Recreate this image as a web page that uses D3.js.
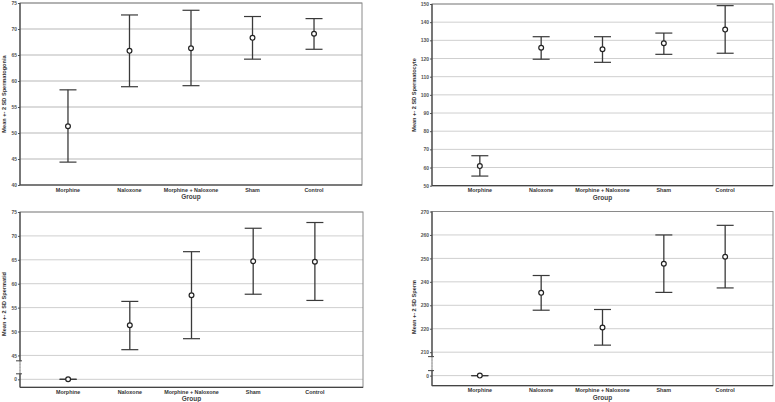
<!DOCTYPE html>
<html>
<head>
<meta charset="utf-8">
<script src="https://cdn.jsdelivr.net/npm/d3@7"></script>
<style>
  body { margin: 0; background: #fff; }
  svg { display: block; font-family: Arial, "Liberation Sans", sans-serif; }
</style>
</head>
<body>
<svg id="chart" width="775" height="402"></svg>
<script>
// groups on the x axis (same in all four panels)
var groups = ['Morphine', 'Naloxone', 'Morphine + Naloxone', 'Sham', 'Control'];

// Spermatogonia: mean, mean - 2SD, mean + 2SD
var gonMean = [51.3, 65.8, 66.3, 68.3, 69.1];
var gonLow  = [44.4, 58.9, 59.1, 64.2, 66.1];
var gonHigh = [58.3, 72.7, 73.6, 72.4, 72.0];

// Spermatocyte
var cyteMean = [60.8, 125.9, 125.1, 128.4, 135.9];
var cyteLow  = [55.3, 119.6, 117.9, 122.3, 122.9];
var cyteHigh = [66.5, 132.0, 132.0, 134.0, 149.1];

// Spermatid (morphine group is 0, shown below the axis break)
var tidMean = [0, 51.3, 57.6, 64.7, 64.6];
var tidLow  = [0, 46.2, 48.5, 57.8, 56.5];
var tidHigh = [0, 56.3, 66.7, 71.6, 72.8];

// Sperm
var spermMean = [0, 235.3, 220.5, 247.7, 250.7];
var spermLow  = [0, 227.9, 213.0, 235.5, 237.4];
var spermHigh = [0, 242.7, 228.2, 260.0, 264.1];

// tick values
var gonTicks = [40, 45, 50, 55, 60, 65, 70, 75];
var cyteTicks = [50, 60, 70, 80, 90, 100, 110, 120, 130, 140, 150];
var tidTicks = [40, 45, 50, 55, 60, 65, 70, 75];     // 40 is drawn as "0"
var spermTicks = [200, 210, 220, 230, 240, 250, 260, 270]; // 200 is drawn as "0"

var svg = d3.select('#chart');

function drawPanel(p){
    var g = svg.append('g');

    var x = d3.scalePoint()
        .domain(groups)
        .range([p.left, p.right])
        .padding(0.78);

    var y = d3.scaleLinear()
        .domain(p.domain)
        .range([p.bottom, p.top]);

    // values under the break are put on the break tick
    function yPos(v){
        if (p.breakAt != null && v < p.breakAt) return y(p.breakAt);
        return y(v);
    }

    // grid
    g.selectAll('line.grid')
        .data(p.ticks)
        .enter().append('line')
        .attr('class', 'grid')
        .attr('x1', p.left).attr('x2', p.right)
        .attr('y1', d => y(d)).attr('y2', d => y(d))
        .attr('stroke', '#cfcfcf')
        .attr('stroke-width', p.gridWidth);

    // frame: top and right in gray
    g.append('rect')
        .attr('x', p.left).attr('y', p.top)
        .attr('width', p.right - p.left).attr('height', p.bottom - p.top)
        .attr('fill', 'none')
        .attr('stroke', '#8a8a8a')
        .attr('stroke-width', 1);

    // y axis
    var yAxis = d3.axisLeft(y)
        .tickValues(p.ticks)
        .tickSize(2)
        .tickFormat(d => (p.breakAt != null && d == p.breakAt) ? '0' : d);

    var ya = g.append('g')
        .attr('transform', 'translate(' + p.left + ',0)')
        .call(yAxis);
    ya.select('.domain').remove();
    ya.selectAll('line').attr('stroke', '#555');
    ya.selectAll('text')
        .attr('font-size', 5)
        .attr('font-weight', 'bold')
        .attr('fill', '#555')
        .attr('x', -3);

    // solid left axis (dotted across the break)
    if (p.breakAt != null){
        var b1 = y(p.breakAt) - p.breakGap[0];
        var b2 = y(p.breakAt) - p.breakGap[1];
        g.append('line')
            .attr('x1', p.left).attr('x2', p.left)
            .attr('y1', p.top).attr('y2', b1)
            .attr('stroke', '#444').attr('stroke-width', 1.2);
        g.append('line')
            .attr('x1', p.left).attr('x2', p.left)
            .attr('y1', b1).attr('y2', b2)
            .attr('stroke', '#999').attr('stroke-width', 0.8)
            .attr('stroke-dasharray', '1,2');
        g.append('line')
            .attr('x1', p.left).attr('x2', p.left)
            .attr('y1', b2).attr('y2', p.bottom)
            .attr('stroke', '#444').attr('stroke-width', 1.2);
        [b1, b2].forEach(function(b){
            g.append('line')
                .attr('x1', p.left - 4).attr('x2', p.left + 2)
                .attr('y1', b).attr('y2', b)
                .attr('stroke', '#444').attr('stroke-width', 1);
        });
    } else {
        g.append('line')
            .attr('x1', p.left).attr('x2', p.left)
            .attr('y1', p.top).attr('y2', p.bottom)
            .attr('stroke', '#444').attr('stroke-width', 1.2);
    }

    // x axis
    g.append('line')
        .attr('x1', p.left).attr('x2', p.right)
        .attr('y1', p.bottom).attr('y2', p.bottom)
        .attr('stroke', '#444').attr('stroke-width', 1.2);

    g.selectAll('text.cat')
        .data(groups)
        .enter().append('text')
        .attr('class', 'cat')
        .attr('x', d => x(d))
        .attr('y', p.bottom + 6.5)
        .attr('text-anchor', 'middle')
        .attr('font-size', 5.4)
        .attr('font-weight', 'bold')
        .attr('fill', '#333')
        .text(d => d);

    g.append('text')
        .attr('x', x('Morphine + Naloxone'))
        .attr('y', p.bottom + 14)
        .attr('text-anchor', 'middle')
        .attr('font-size', 6.5)
        .attr('font-weight', 'bold')
        .attr('fill', '#444')
        .text('Group');

    // y title
    g.append('text')
        .attr('transform', 'translate(' + p.titleX + ',' + p.titleY + ') rotate(-90)')
        .attr('text-anchor', 'middle')
        .attr('font-size', 5.6)
        .attr('font-weight', 'bold')
        .attr('fill', '#333')
        .text(p.title);

    // error bars
    var rows = groups.map((d, i) => ({g: d, m: p.mean[i], lo: p.low[i], hi: p.high[i]}));
    var cap = 8.5;

    var bars = g.selectAll('g.bar')
        .data(rows)
        .enter().append('g')
        .attr('class', 'bar');

    bars.append('line')
        .attr('x1', d => x(d.g)).attr('x2', d => x(d.g))
        .attr('y1', d => yPos(d.lo)).attr('y2', d => yPos(d.hi))
        .attr('stroke', '#3a3a3a').attr('stroke-width', 1.3);

    bars.append('line')
        .attr('x1', d => x(d.g) - cap).attr('x2', d => x(d.g) + cap)
        .attr('y1', d => yPos(d.hi)).attr('y2', d => yPos(d.hi))
        .attr('stroke', '#3a3a3a').attr('stroke-width', 1.2);

    bars.append('line')
        .attr('x1', d => x(d.g) - cap).attr('x2', d => x(d.g) + cap)
        .attr('y1', d => yPos(d.lo)).attr('y2', d => yPos(d.lo))
        .attr('stroke', '#3a3a3a').attr('stroke-width', 1.2);

    bars.append('circle')
        .attr('cx', d => x(d.g))
        .attr('cy', d => yPos(d.m))
        .attr('r', 2.4)
        .attr('fill', '#fff')
        .attr('stroke', '#222')
        .attr('stroke-width', 1.2);
}

drawPanel({
    left: 20, right: 362, top: 3, bottom: 185,
    domain: [40, 75], ticks: gonTicks, gridWidth: 1.5,
    mean: gonMean, low: gonLow, high: gonHigh,
    title: 'Mean +- 2 SD Spermatogonia', titleX: 6, titleY: 94
});

drawPanel({
    left: 432, right: 773, top: 4, bottom: 185.7,
    domain: [50, 150], ticks: cyteTicks, gridWidth: 1,
    mean: cyteMean, low: cyteLow, high: cyteHigh,
    title: 'Mean +- 2 SD Spermatocyte', titleX: 416, titleY: 95
});

drawPanel({
    left: 20, right: 363, top: 212, bottom: 387.3,
    domain: [38.33, 75], ticks: tidTicks, gridWidth: 1,
    breakAt: 40, breakGap: [18.5, 5.5],
    mean: tidMean, low: tidLow, high: tidHigh,
    title: 'Mean +- 2 SD Spermatid', titleX: 6, titleY: 304
});

drawPanel({
    left: 432, right: 773, top: 211.5, bottom: 385.7,
    domain: [195.7, 270], ticks: spermTicks, gridWidth: 1,
    breakAt: 200, breakGap: [19, 5],
    mean: spermMean, low: spermLow, high: spermHigh,
    title: 'Mean +- 2 SD Sperm', titleX: 416, titleY: 307
});
</script>
</body>
</html>
